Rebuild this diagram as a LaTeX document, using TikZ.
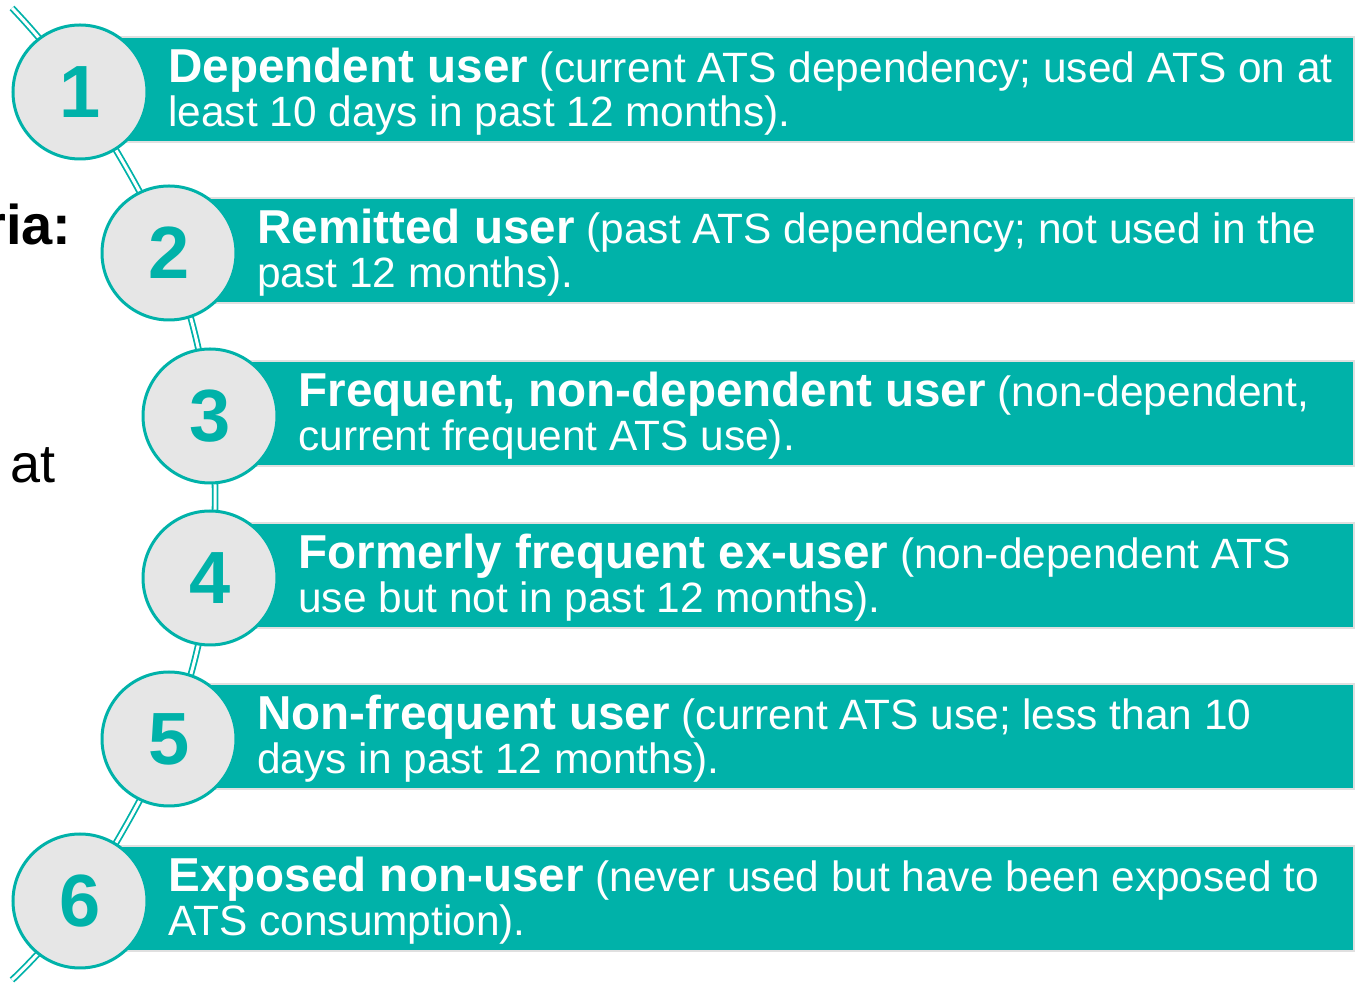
\documentclass[tikz,border=0pt]{standalone}
\usepackage{fontspec}
\setmainfont{Liberation Sans}
\usepackage{xcolor}
\usetikzlibrary{positioning}

\definecolor{atsteal}{HTML}{00B2A9}
\definecolor{discgrey}{HTML}{E6E6E6}
\newcommand{\lead}[1]{{\fontsize{23.8}{22}\selectfont\bfseries #1}}

\begin{document}
\begin{tikzpicture}[x=0.5pt,y=-0.5pt]
            \tikzstyle{bar} = [rectangle, fill=atsteal, draw=black!12, line width=1pt, minimum height=52.5pt, anchor=west, inner sep=0pt, yshift=1.2pt]
            \tikzstyle{disc} = [circle, draw=atsteal, line width=1.5pt, fill=discgrey, minimum size=67pt, inner sep=0pt, text=atsteal, font=\fontsize{37}{37}\selectfont\bfseries]
            \tikzstyle{info} = [text=white, align=left, inner sep=0pt, font=\fontsize{21.2}{22}\selectfont]
            \tikzstyle{link} = [draw=atsteal, line width=0.9pt, double=white, double distance=1.5pt]

            \useasboundingbox (0,0) rectangle (1357,983);
            \clip (0,0) rectangle (1357,983);

            % words of the slide underneath
            \node [anchor=base east, inner sep=0pt, font=\fontsize{28}{28}\selectfont\bfseries] (criteria) at (72,245) {ria:};
            \node [anchor=base west, inner sep=0pt, font=\fontsize{27}{27}\selectfont] (at) at (10,483) {at};

            % centres of the discs, on one arc
            \coordinate (top) at (12,8);
            \coordinate (c1) at (80,92);
            \coordinate (c2) at (169,253);
            \coordinate (c3) at (210,416);
            \coordinate (c4) at (210,578);
            \coordinate (c5) at (169,739);
            \coordinate (c6) at (80,901);
            \coordinate (bottom) at (12,980);
            \draw [link] plot[smooth, tension=0.6] coordinates {(top) (c1) (c2) (c3) (c4) (c5) (c6) (bottom)};

            % teal bars
            \node [bar, minimum width=636.5pt] (depbar) at (c1) {};
            \node [bar, minimum width=592pt] (rembar) at (c2) {};
            \node [bar, minimum width=571.5pt] (freqbar) at (c3) {};
            \node [bar, minimum width=571.5pt] (formbar) at (c4) {};
            \node [bar, minimum width=592pt] (nonfreqbar) at (c5) {};
            \node [bar, minimum width=636.5pt] (expbar) at (c6) {};

            % numbered discs
            \node [disc] (dep) at (c1) {1};
            \node [disc] (rem) at (c2) {2};
            \node [disc] (freq) at (c3) {3};
            \node [disc] (form) at (c4) {4};
            \node [disc] (nonfreq) at (c5) {5};
            \node [disc] (exp) at (c6) {6};

            \node [info, right = 44pt of dep.center] (deptext) {\lead{Dependent user} (current ATS dependency; used ATS on at\\least 10 days in past 12 months).};
            \node [info, right = 44pt of rem.center] (remtext) {\lead{Remitted user} (past ATS dependency; not used in the\\past 12 months).};
            \node [info, right = 44pt of freq.center] (freqtext) {\lead{Frequent, non-dependent user} (non-dependent,\\current frequent ATS use).};
            \node [info, right = 44pt of form.center] (formtext) {\lead{Formerly frequent ex-user} (non-dependent ATS\\use but not in past 12 months).};
            \node [info, right = 44pt of nonfreq.center] (nonfreqtext) {\lead{Non-frequent user} (current ATS use; less than 10\\days in past 12 months).};
            \node [info, right = 44pt of exp.center] (exptext) {\lead{Exposed non-user} (never used but have been exposed to\\ATS consumption).};
\end{tikzpicture}
\end{document}
